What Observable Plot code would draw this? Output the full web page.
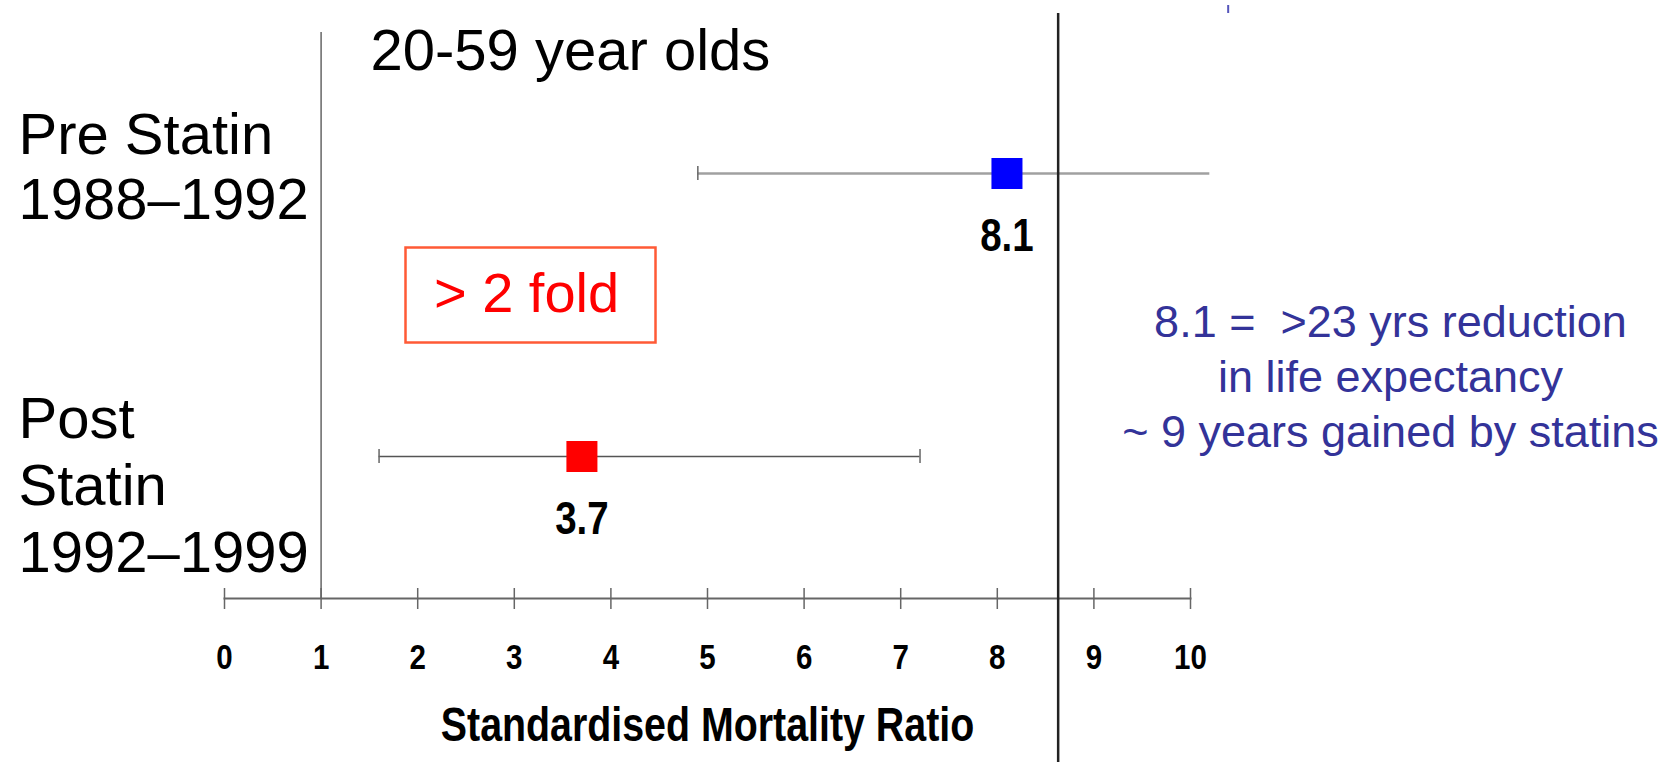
<!DOCTYPE html>
<html>
<head>
<meta charset="utf-8">
<script src="https://cdn.jsdelivr.net/npm/d3@7"></script>
<script src="https://cdn.jsdelivr.net/npm/@observablehq/plot@0.6"></script>
<style>
  html, body { margin: 0; padding: 0; background: #fff; }
  #chart svg { display: block; }
</style>
</head>
<body>
<div id="chart"></div>
<script>
// ---- data ----
const groups = ["Pre", "Post"];
const groupLabels = ["Pre Statin\n1988–1992", "Post\nStatin\n1992–1999"];
const smr = [8.1, 3.7];
const lower = [4.9, 1.6];
const upper = [10.2, 7.2];
const pointColors = ["#0000ff", "#ff0000"];
const xTicks = [0, 1, 2, 3, 4, 5, 6, 7, 8, 9, 10];
const nullLine = [1];
const dividerLine = [8.63];
const markerLine = [10.39];
const titleText = "20-59 year olds";
const axisTitle = "Standardised Mortality Ratio";
const foldText = "> 2 fold";
const noteText = "8.1 =  >23 yrs reduction\nin life expectancy\n~ 9 years gained by statins";

const rows = groups.map((g, i) => ({
  g, label: groupLabels[i], smr: smr[i], lo: lower[i], hi: upper[i], color: pointColors[i]
}));

const narrow = "'Liberation Sans Narrow', 'Arial Narrow', 'Liberation Sans', sans-serif";
const sans = "'Liberation Sans', Arial, sans-serif";

const W = 1670, H = 762;
const mL = 224, mR = 480, mT = 32, mB = 164;
const frameH = H - mT - mB;

const chart = Plot.plot({
  width: W, height: H,
  marginLeft: mL, marginRight: mR, marginTop: mT, marginBottom: mB,
  style: { background: "#fff", fontFamily: sans, color: "#000" },
  x: { domain: [0, 10], axis: null },
  y: { type: "point", domain: groups, range: [173, 456], padding: 0, axis: null },
  marks: [
    // vertical reference line at SMR = 1
    Plot.ruleX(nullLine, { stroke: "#666", strokeWidth: 1.5 }),
    // x axis line
    Plot.frame({ anchor: "bottom", stroke: "#666", strokeWidth: 2 }),
    // ticks (above and below axis)
    Plot.ruleX(xTicks, { stroke: "#666", strokeWidth: 1.5, insetTop: frameH - 10, insetBottom: -11 }),
    // tick labels
    Plot.text(xTicks, { x: d => d, text: d => String(d), frameAnchor: "bottom", lineAnchor: "middle", dy: 59,
      fontSize: 36, fontWeight: "bold", fontFamily: narrow, fill: "#000" }),
    // axis title
    Plot.text([axisTitle], { frameAnchor: "bottom", lineAnchor: "middle", dy: 127, fontSize: 48, fontWeight: "bold",
      fontFamily: narrow, fill: "#000" }),
    // confidence interval lines
    Plot.ruleY(rows.filter(d => d.g === "Pre"), { y: "g", x1: "lo", x2: "hi", stroke: "#a0a0a0", strokeWidth: 2.5 }),
    Plot.ruleY(rows.filter(d => d.g === "Post"), { y: "g", x1: "lo", x2: "hi", stroke: "#555", strokeWidth: 1.5 }),
    // caps
    Plot.ruleX(rows, { x: "lo", y1: "g", y2: "g", insetTop: -7, insetBottom: -7, stroke: "#666", strokeWidth: 1.5 }),
    Plot.ruleX(rows.filter(d => d.g === "Post"), { x: "hi", y1: "g", y2: "g", insetTop: -7, insetBottom: -7, stroke: "#666", strokeWidth: 1.5 }),
    // divider line
    Plot.ruleX(dividerLine, { stroke: "#222", strokeWidth: 2.5, insetTop: -19, insetBottom: -mB }),
    // tiny top marker
    Plot.ruleX(markerLine, { stroke: "#5555bb", strokeWidth: 2, insetTop: -27, insetBottom: frameH - 13 + mT }),
    // point estimates
    Plot.dot(rows, { x: "smr", y: "g", symbol: "square", r: 17.5, fill: "color", stroke: null }),
    // value labels
    Plot.text(rows, { x: "smr", y: "g", text: d => d.smr.toFixed(1), dy: 62, fontSize: 47,
      fontWeight: "bold", fontFamily: narrow, fill: "#000" }),
    // group labels
    Plot.text(rows.filter(d => d.g === "Pre"), { y: "g", text: "label", frameAnchor: "left", dx: -206, dy: -8,
      textAnchor: "start", fontSize: 58, lineHeight: 1.12, fill: "#000" }),
    Plot.text(rows.filter(d => d.g === "Post"), { y: "g", text: "label", frameAnchor: "left", dx: -206, dy: 27,
      textAnchor: "start", fontSize: 58, lineHeight: 1.15, fill: "#000" }),
    // chart title
    Plot.text([titleText], { frameAnchor: "top-left", lineAnchor: "middle", dx: 370 - mL, dy: 51 - mT,
      textAnchor: "start", fontSize: 58, fill: "#000" }),
    // > 2 fold box
    Plot.frame({ stroke: "#ff5a36", strokeWidth: 2.5, insetLeft: 405 - mL, insetRight: (W - mR) - 655,
      insetTop: 247 - mT, insetBottom: (H - mB) - 342 }),
    Plot.text([foldText], { frameAnchor: "top-left", lineAnchor: "middle", dx: 526 - mL, dy: 294 - mT,
      textAnchor: "middle", fontSize: 56, fill: "#ff0000" }),
    // right note
    Plot.text([noteText], { frameAnchor: "top-right", lineAnchor: "middle", dx: 200, dy: 374 - mT,
      textAnchor: "middle", fontSize: 45, lineHeight: 1.22, fill: "#333399" })
  ]
});

// condensed look for the narrow bold labels (no narrow font installed)
chart.querySelectorAll('g[font-family*="Narrow"] text').forEach(t => {
  const tr = t.getAttribute("transform") || "";
  t.setAttribute("transform", (tr + " scale(0.82,1)").trim());
});

document.getElementById("chart").appendChild(chart);
</script>
</body>
</html>
